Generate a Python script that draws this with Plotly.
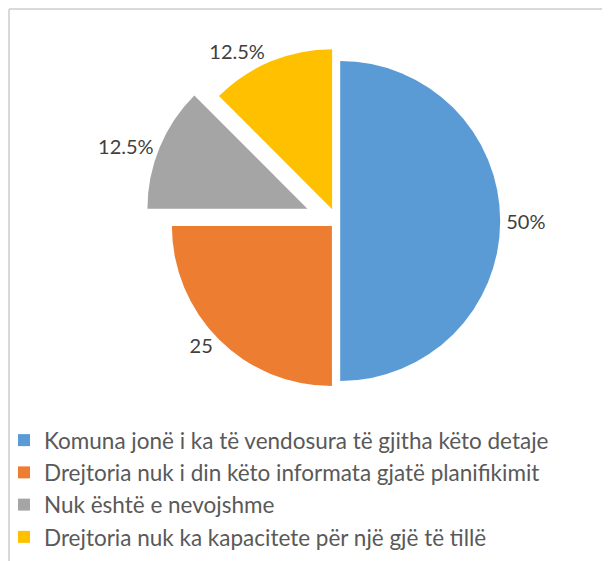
import plotly.graph_objects as go

categories = [
    "Komuna jonë i ka të vendosura të gjitha këto detaje",
    "Drejtoria nuk i din këto informata gjatë planifikimit",
    "Nuk është e nevojshme",
    "Drejtoria nuk ka kapacitete për një gjë të tillë",
]
values = [50, 25, 12.5, 12.5]
value_labels = ["50%", "25", "12.5%", "12.5%"]
colors = ["#5B9BD5", "#ED7D31", "#A5A5A5", "#FFC000"]
pulls = [0.02, 0.045, 0.2, 0.08]

W, H = 610, 561
fig = go.Figure(go.Pie(
    labels=categories,
    values=values,
    text=value_labels,
    textinfo="text",
    textposition="outside",
    sort=False,
    direction="clockwise",
    rotation=0,
    pull=pulls,
    marker=dict(colors=colors, line=dict(color="white", width=0)),
    textfont=dict(family="Lato", size=20, color="#404040"),
    hoverinfo="label+value",
    domain=dict(x=[137 / W, 521 / W], y=[1 - 405 / H, 1 - 21 / H]),
))

border = dict(color="#D9D9D9", width=2)
fig.add_shape(type="line", xref="paper", yref="paper",
              x0=1 / W, x1=1 / W, y0=0, y1=1 - 1 / H, line=border)
fig.add_shape(type="line", xref="paper", yref="paper",
              x0=1 / W, x1=1, y0=1 - 1 / H, y1=1 - 1 / H, line=border)

fig.update_layout(
    width=W, height=H,
    margin=dict(l=0, r=0, t=0, b=0, pad=0, autoexpand=False),
    paper_bgcolor="white",
    plot_bgcolor="white",
    showlegend=True,
    legend=dict(
        orientation="v",
        x=-4 / W, xanchor="left",
        y=1 - 411 / H, yanchor="top",
        font=dict(family="Lato", size=22.5, color="#595959"),
        itemwidth=30,
        bgcolor="rgba(0,0,0,0)",
    ),
)

fig.write_html("out.html")
